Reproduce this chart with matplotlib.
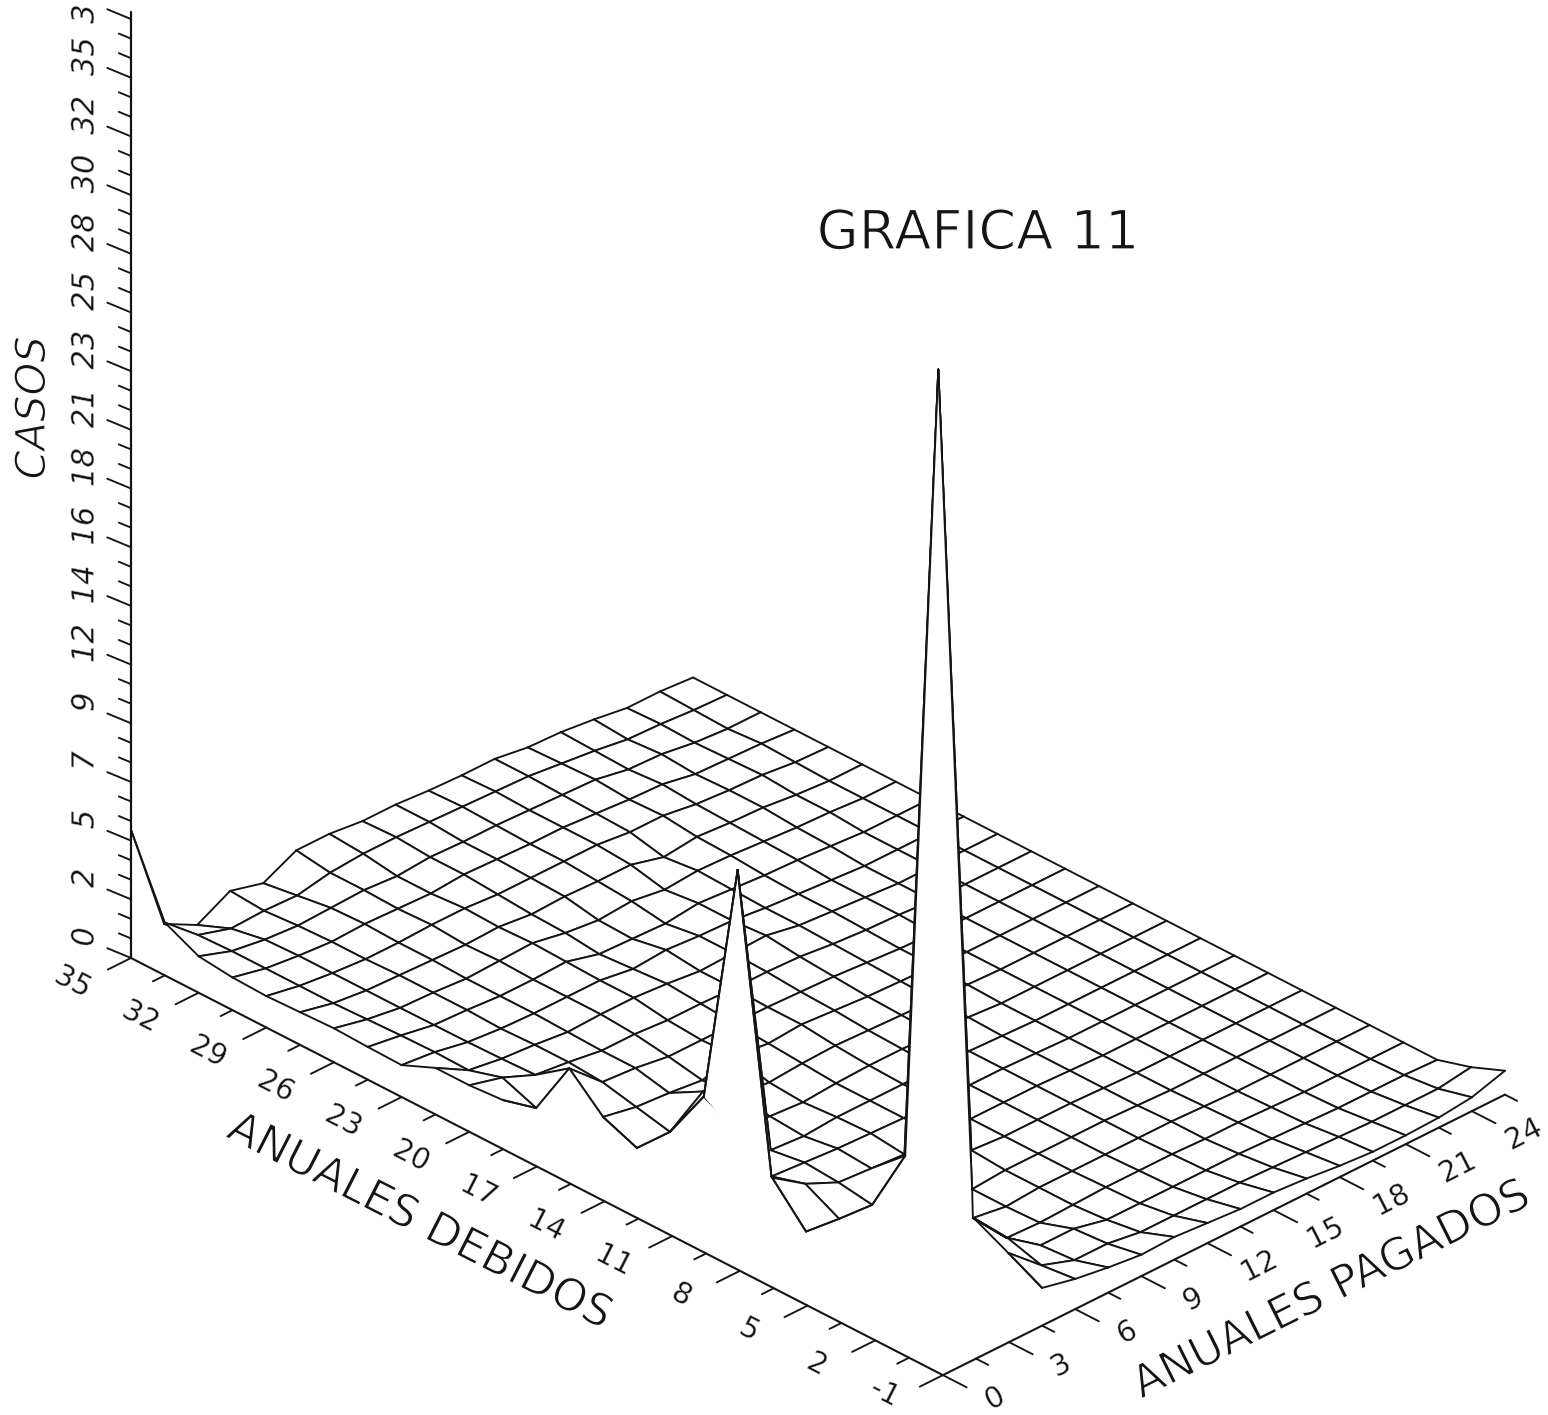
import math
import matplotlib
matplotlib.use("Agg")
import matplotlib.pyplot as plt
import matplotlib.patheffects as pe

nan = math.nan

# ---- data ----
paid_grid = [1.5 * k for k in range(18)]          # ANUALES PAGADOS, 0 .. 25.5
debt_grid = [35 - 1.5 * k for k in range(25)]     # ANUALES DEBIDOS, 35 .. -1
casos = [
    [5.1, .7, 0, .7, .35, 1.0, 1.0, .85, .85, .75, .7, .7, .5, .45, .3, .1, .1, 0],
    [2.1, .95, .55, .6, .55, .8, .9, .9, .85, .8, .75, .7, .55, .4, .2, .15, .05, 0],
    [1.45, 1.0, .8, .7, .75, .8, .7, .8, .75, .75, .7, .65, .6, .35, .3, .1, 0, 0],
    [1.3, 1.0, .85, .75, .8, .75, .7, .8, .75, .7, .7, .6, .5, .45, .2, .15, .1, 0],
    [1.25, 1.0, .85, .75, .75, .8, .8, .7, .7, .7, .7, .55, .55, .35, .25, .2, .05, 0],
    [1.3, 1.0, .85, .8, .75, .7, .75, .6, .65, .6, .6, .25, .4, .3, .25, .1, 0, 0],
    [1.35, 1.05, .85, .8, .7, .75, .8, .55, .4, .5, .3, .4, .35, .25, .15, .1, 0, 0],
    [1.3, 1.1, .86, .8, .7, .7, .75, .4, .35, .3, .45, .35, .25, .2, .1, 0, 0, 0],
    [1.27, 1.13, .87, .75, .7, .7, .7, .5, .6, .5, .45, .3, .2, .1, 0, 0, 0, 0],
    [1.85, 1.1, .9, .8, .65, .7, .7, .6, .45, .5, .55, .3, .2, .1, 0, 0, 0, 0],
    [1.85, 1.5, .95, .8, .6, .6, .5, .5, .45, .45, .4, .25, .15, .1, 0, 0, 0, 0],
    [1.95, .98, 1.9, .7, .6, .4, .4, .4, .4, .35, .3, .2, .1, .05, 0, 0, 0, 0],
    [nan, nan, .66, .4, .3, .15, .45, .3, .4, .3, .2, .15, .1, 0, 0, 0, 0, 0],
    [nan, nan, .12, .1, 1.05, .2, .1, .2, .25, .2, .15, .1, .05, 0, 0, 0, 0, 0],
    [nan, nan, nan, 2.2, .2, .1, 0, .1, .15, .15, .1, .1, 0, 0, 0, 0, 0, 0],
    [nan, nan, nan, 11.9, .1, 0, .1, .1, .1, .1, .1, .05, 0, 0, 0, 0, 0, 0],
    [nan, nan, nan, .4, .3, .2, .15, .1, .1, .1, .1, .05, 0, 0, 0, 0, 0, 0],
    [nan, nan, 1.7, .8, .2, .1, 0, .1, .1, .1, .1, .05, 0, 0, 0, 0, 0, 0],
    [nan, nan, .25, .1, 0, 1.3, 31.9, .2, .1, .1, .1, .05, 0, 0, 0, 0, 0, 0],
    [nan, nan, nan, nan, nan, nan, 0, .1, .1, .1, .1, .05, 0, 0, 0, 0, 0, 0],
    [nan, nan, nan, nan, nan, .2, 0, .1, .1, .1, .1, .1, .05, 0, 0, 0, 0, 0],
    [nan, nan, nan, nan, 1.55, .1, .05, .1, .15, .15, .15, .1, .1, .05, 0, 0, 0, 0],
    [nan, nan, nan, nan, 1.45, .5, .5, .2, .2, .2, .2, .2, .15, .1, .05, .05, .05, 0],
    [nan, nan, nan, 2.2, 1.05, .6, .6, .4, .4, .4, .4, .35, .3, .25, .2, .2, .2, .4],
    [nan, nan, nan, 1.5, 1.2, 1.0, .85, .9, .8, .7, .7, .6, .45, .35, .35, .4, .55, .95],
]
# grid links on the jagged front rim that are not plain neighbours (paid index, debt index)
rim_links = [((6, 19), (5, 20)), ((4, 21), (3, 23))]
# the open front of the middle spike, which hides what lies behind it
spike_front = [(3, 14), (3, 15), (3, 16)]
# rim cells with three corners that do not hide anything
open_cells = [(2, 13)]

z_axis_labels = ["0", "2", "5", "7", "9", "12", "14", "16", "18", "21", "23", "25", "28", "30", "32", "35", "3"]
debt_labels = ["35", "32", "29", "26", "23", "20", "17", "14", "11", "8", "5", "2", "-1"]
paid_labels = ["0", "3", "6", "9", "12", "15", "18", "21", "24"]
title = "GRAFICA 11"
z_name, debt_name, paid_name = "CASOS", "ANUALES DEBIDOS", "ANUALES PAGADOS"

# ---- oblique projection of the plot box ----
X0, Y0 = 131.0, 958.0
PX, PY = 33.06 / 1.5, -16.5 / 1.5
DX, DY = 33.83 / 1.5, 17.38 / 1.5
ZS = 25.15
Z_STEP = 7 / 3


def project(paid, debt, z=0.0):
    return (X0 + PX * paid + DX * (35 - debt), Y0 + PY * paid + DY * (35 - debt) - ZS * z)


fig = plt.figure(figsize=(15.48, 14.15), dpi=100)
ax = fig.add_axes([0, 0, 1, 1])
ax.set_xlim(0, 1548)
ax.set_ylim(1415, 0)
ax.axis("off")

INK = "#141414"
LW = 1.35
thin = [pe.Normal(), pe.Stroke(linewidth=0.9, foreground="white")]
thin_small = [pe.Normal(), pe.Stroke(linewidth=0.35, foreground="white")]

# ---- surface: painter's order from the back corner to the front corner ----
def vertex(i, j):
    z = casos[j][i]
    if math.isnan(z):
        return None
    return project(paid_grid[i], debt_grid[j], z)


order = 1
for i in range(len(paid_grid) - 2, -1, -1):
    if i == 2:
        tri = [vertex(*v) for v in spike_front]
        ax.fill([p[0] for p in tri], [p[1] for p in tri], color="white", lw=0, zorder=order)
        ax.plot([p[0] for p in tri], [p[1] for p in tri], color=INK, lw=LW, zorder=order + 0.5)
        order += 1
    for j in range(len(debt_grid) - 1):
        ring = [vertex(i, j), vertex(i + 1, j), vertex(i + 1, j + 1), vertex(i, j + 1)]
        pts = [p for p in ring if p is not None]
        if len(pts) >= 3 and (i, j) not in open_cells:
            ax.fill([p[0] for p in pts], [p[1] for p in pts], color="white", lw=0, zorder=order)
        for k in range(4):
            a, b = ring[k], ring[(k + 1) % 4]
            if a is not None and b is not None:
                ax.plot([a[0], b[0]], [a[1], b[1]], color=INK, lw=LW, zorder=order + 0.5,
                        solid_capstyle="round")
        order += 1
for (a, b) in rim_links:
    pa, pb = vertex(*a), vertex(*b)
    ax.plot([pa[0], pb[0]], [pa[1], pb[1]], color=INK, lw=LW, zorder=order)

# ---- axes ----
def line(p, q, lw=LW):
    ax.plot([p[0], q[0]], [p[1], q[1]], color=INK, lw=lw, zorder=order, solid_capstyle="round")


line(project(0, 35), project(0, -1), 1.5)
line(project(0, -1), project(25.5, -1), 1.5)
line(project(0, 35), project(0, 35, 37.6), 1.6)

for k in range(25):           # debt ticks, one per grid step
    d = 35 - 1.5 * k
    s = 0.7 if k % 2 == 0 else 0.36
    p = project(0, d)
    line(p, (p[0] - 33.06 * s, p[1] + 16.5 * s))
for k in range(18):           # paid ticks
    v = 1.5 * k
    s = 0.7 if k % 2 == 0 else 0.36
    p = project(v, -1)
    line(p, (p[0] + 33.83 * s, p[1] + 17.38 * s))
for k in range(49):           # count ticks
    v = k * Z_STEP / 3
    s = 0.7 if k % 3 == 0 else 0.36
    p = project(0, 35, v)
    line(p, (p[0] - 33.83 * s, p[1] - 14 * s))

# ---- texts ----
for k, lab in enumerate(z_axis_labels):
    p = project(0, 35, k * Z_STEP)
    dy = -5 if k == len(z_axis_labels) - 1 else -21
    ax.text(p[0] - 46, p[1] + dy, lab, rotation=90, ha="center", va="center", fontsize=22,
            style="italic", color=INK, path_effects=thin_small, zorder=order)
for k, lab in enumerate(debt_labels):
    p = project(0, 35 - 3 * k)
    ax.text(p[0] - 58, min(p[1] + 24, 1393), lab, rotation=-27, rotation_mode="anchor", ha="center",
            va="center", fontsize=21, color=INK, path_effects=thin_small, zorder=order)
for k, lab in enumerate(paid_labels):
    p = project(3 * k, -1)
    ax.text(p[0] + 52, p[1] + 24, lab, rotation=27, rotation_mode="anchor", ha="center", va="center",
            fontsize=21, color=INK, path_effects=thin_small, zorder=order)

ax.text(33, 408, z_name, rotation=90, ha="center", va="center", fontsize=30, style="italic",
        color=INK, path_effects=thin, zorder=order)
ax.text(420, 1222, debt_name, rotation=-27, rotation_mode="anchor", ha="center", va="center",
        fontsize=32, color=INK, path_effects=thin, zorder=order)
ax.text(1332, 1290, paid_name, rotation=26.5, rotation_mode="anchor", ha="center", va="center",
        fontsize=32, color=INK, path_effects=thin, zorder=order)
ax.text(978, 234, title, ha="center", va="center", fontsize=39, color=INK,
        path_effects=thin, zorder=order)

fig.savefig("out.png", dpi=100, facecolor="white")
